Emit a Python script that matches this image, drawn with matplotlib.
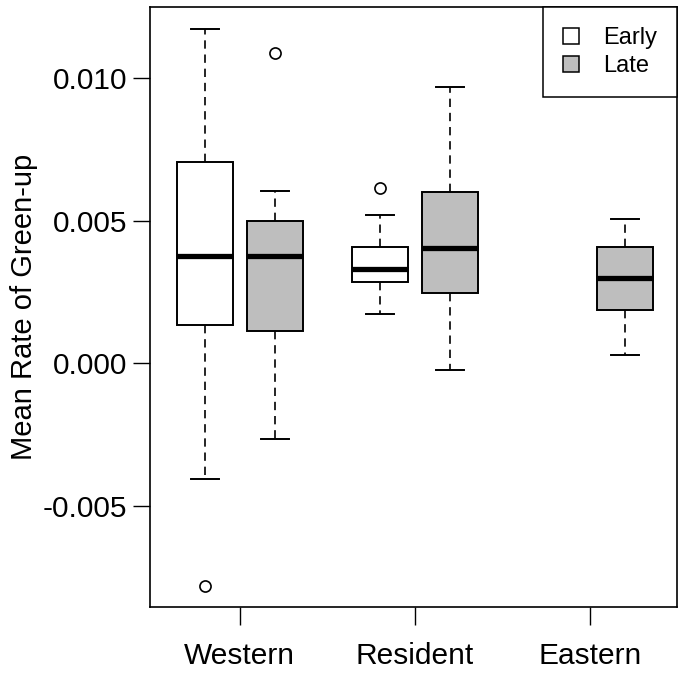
import matplotlib
matplotlib.use("Agg")
import matplotlib.pyplot as plt
from matplotlib.patches import Patch

plt.rcParams["font.family"] = ["Liberation Sans", "DejaVu Sans"]

# groups along the x axis
groups = ["Western", "Resident", "Eastern"]

# box summaries (None = no box for that group)
early_whislo = [-0.00403, 0.00174, None]
early_q1 = [0.00134, 0.00284, None]
early_med = [0.00377, 0.00331, None]
early_q3 = [0.00704, 0.00409, None]
early_whishi = [0.01169, 0.00521, None]
early_fliers = [[-0.00777], [0.00613], []]

late_whislo = [-0.00266, -0.00023, 0.00030]
late_q1 = [0.00113, 0.00246, 0.00186]
late_med = [0.00377, 0.00403, 0.00298]
late_q3 = [0.00500, 0.00599, 0.00409]
late_whishi = [0.00605, 0.00966, 0.00507]
late_fliers = [[0.01085], [], []]

series_names = ["Early", "Late"]
series_colors = ["white", "#bebebe"]

yticks = [-0.005, 0.000, 0.005, 0.010]
ytick_labels = ["-0.005", "0.000", "0.005", "0.010"]


def make_stats(lo, q1, med, q3, hi, fl):
    out = []
    for i in range(len(groups)):
        if med[i] is None:
            out.append(None)
            continue
        out.append(dict(whislo=lo[i], q1=q1[i], med=med[i], q3=q3[i],
                        whishi=hi[i], fliers=fl[i]))
    return out


early = make_stats(early_whislo, early_q1, early_med, early_q3, early_whishi, early_fliers)
late = make_stats(late_whislo, late_q1, late_med, late_q3, late_whishi, late_fliers)

fig = plt.figure(figsize=(6.78, 6.75), dpi=100)
ax = fig.add_axes([150 / 678, 1 - 607 / 675, 527 / 678, 600 / 675])

offset = 0.2
width = 0.32
for stats, shift, color in [(early, -offset, series_colors[0]), (late, offset, series_colors[1])]:
    pos = [i + 1 + shift for i, s in enumerate(stats) if s is not None]
    st = [s for s in stats if s is not None]
    ax.bxp(st, positions=pos, widths=width, patch_artist=True, manage_ticks=False,
           boxprops=dict(facecolor=color, edgecolor="black", linewidth=1.4),
           medianprops=dict(color="black", linewidth=3.8, solid_capstyle="butt"),
           whiskerprops=dict(color="black", linewidth=1.2, linestyle=(0, (5, 3.5))),
           capprops=dict(color="black", linewidth=1.4),
           capwidths=width / 2,
           flierprops=dict(marker="o", markerfacecolor="none", markeredgecolor="black",
                           markersize=8, markeredgewidth=1.2))

ax.set_xlim(0.488, 3.497)
ax.set_ylim(-0.00852, 0.01247)
ax.set_xticks([1, 2, 3])
ax.set_xticklabels(groups, fontsize=21.5)
ax.set_yticks(yticks)
ax.set_yticklabels(ytick_labels, fontsize=21.5)
ax.tick_params(axis="y", length=12.5, width=1, pad=4)
ax.tick_params(axis="x", length=13, width=1, pad=12)
for sp in ax.spines.values():
    sp.set_linewidth(1.2)
ax.set_ylabel("Mean Rate of Green-up", fontsize=21, labelpad=3)

handles = [Patch(facecolor=c, edgecolor="black", linewidth=1.1) for c in series_colors]
leg = ax.legend(handles, series_names, loc="upper right", fontsize=17,
                borderaxespad=0, fancybox=False, framealpha=1,
                handlelength=0.68, handleheight=0.68, handletextpad=1.0,
                borderpad=0.85, labelspacing=0.25)
leg.get_frame().set_edgecolor("black")
leg.get_frame().set_linewidth(1.1)

fig.savefig("out.png", dpi=100)
